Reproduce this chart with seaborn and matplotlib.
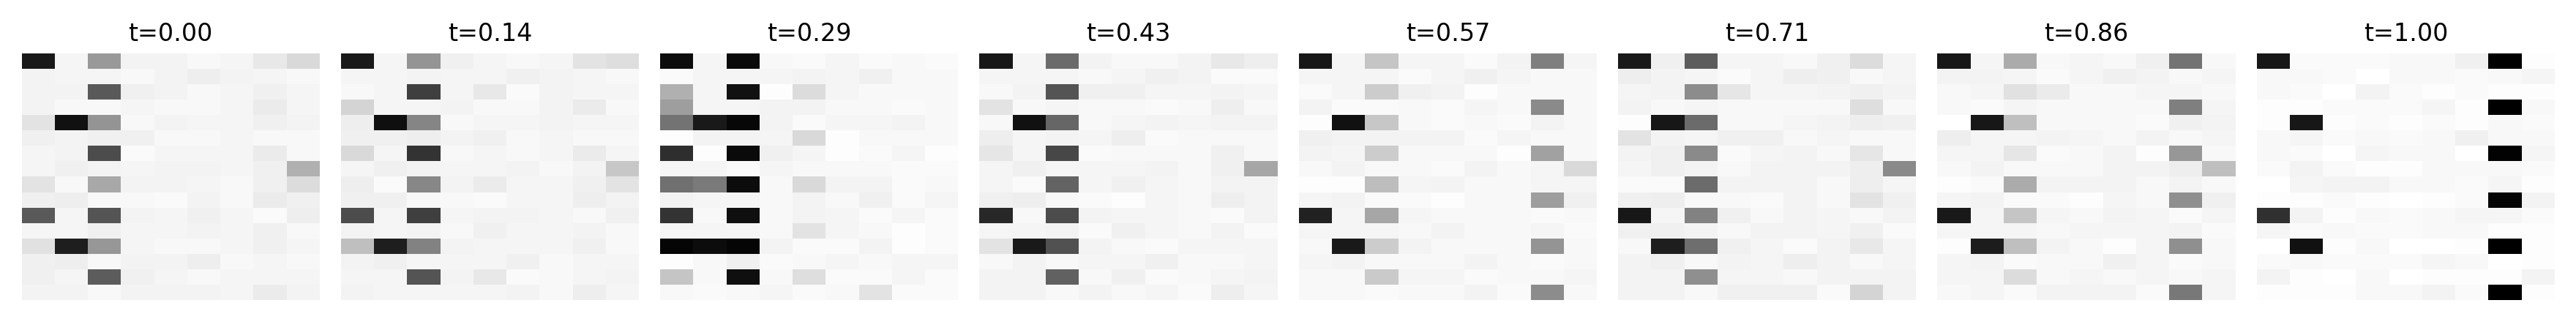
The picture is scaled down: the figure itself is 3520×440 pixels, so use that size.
import numpy as np
import matplotlib
matplotlib.use('Agg')
import matplotlib.pyplot as plt
import seaborn as sns

# darkness of each cell in percent, 16 rows x 9 columns
t000 = [[90,4,40,5,5,3,4,9,15],[5,4,4,3,5,7,5,4,3],[5,5,65,6,5,3,4,6,4],[5,3,3,4,3,3,4,8,4],
        [11,93,42,3,5,4,4,6,5],[6,5,6,6,3,3,4,3,3],[4,5,70,2,4,4,4,8,3],[4,6,5,4,5,5,4,6,31],
        [11,3,34,5,5,4,3,6,14],[6,7,3,3,2,5,3,8,6],[65,4,67,5,4,6,4,2,7],[4,4,6,4,4,5,4,6,3],
        [12,88,41,4,3,3,4,6,4],[6,7,3,5,5,7,3,4,3],[6,4,64,6,4,3,4,4,4],[5,5,3,5,5,5,4,8,5]]
t014 = [[90,4,42,6,4,3,4,11,13],[4,4,5,4,4,6,5,4,3],[3,4,75,4,9,2,5,4,4],[17,4,4,5,3,3,5,8,3],
        [7,94,48,3,4,4,5,4,4],[6,6,7,5,6,3,4,3,3],[15,4,80,3,4,3,4,8,4],[4,6,5,4,4,5,3,5,22],
        [7,2,47,5,8,4,4,6,11],[6,6,3,3,2,4,4,7,5],[70,4,75,4,5,5,4,3,6],[5,4,5,3,6,4,4,5,3],
        [25,88,49,5,4,4,4,6,3],[5,6,4,4,4,6,3,4,4],[4,4,67,5,9,2,3,4,5],[5,4,4,4,4,5,3,7,4]]
t029 = [[95,4,96,3,2,4,2,3,2],[2,4,4,4,5,4,6,3,3],[31,4,93,1,14,4,3,3,3],[38,4,4,5,5,3,3,2,3],
        [55,90,97,5,2,4,4,5,3],[1,5,5,4,15,1,3,3,3],[82,1,96,6,4,1,2,4,1],[4,4,2,4,3,3,3,2,2],
        [56,52,95,3,15,5,5,2,3],[5,4,4,3,5,3,6,2,4],[80,3,94,3,5,4,2,4,2],[4,4,4,3,11,4,3,1,2],
        [98,95,98,5,2,2,5,1,2],[1,3,6,2,3,4,3,4,4],[23,3,94,3,13,2,2,4,2],[3,2,3,4,2,3,11,2,2]]
t043 = [[91,4,58,5,3,3,5,9,7],[4,4,4,3,4,6,5,2,2],[3,5,67,6,6,4,4,5,4],[11,3,4,3,3,2,3,7,3],
        [3,93,60,3,4,5,4,5,5],[7,4,5,4,7,2,3,3,3],[10,4,72,2,3,3,3,6,3],[4,6,4,4,4,5,3,6,35],
        [4,2,61,4,6,4,3,5,5],[6,7,3,2,1,4,3,7,5],[84,3,70,5,4,4,3,2,5],[4,4,5,2,6,4,3,5,2],
        [11,90,68,5,3,2,4,4,4],[3,5,3,4,4,6,3,3,4],[5,5,62,3,6,2,3,4,5],[5,5,3,5,3,4,2,7,4]]
t057 = [[91,4,23,4,4,2,5,50,4],[4,4,4,2,4,6,4,3,3],[2,4,20,6,5,1,3,3,3],[5,2,2,3,2,4,3,46,3],
        [1,93,22,3,2,3,2,5,3],[6,5,5,5,5,2,4,3,3],[5,4,20,3,3,3,1,37,3],[3,5,3,3,2,5,3,4,15],
        [1,1,26,4,5,3,3,4,4],[4,5,2,2,1,3,3,38,6],[87,4,35,4,3,3,3,2,3],[4,4,4,3,5,3,3,4,2],
        [3,90,20,5,3,3,3,42,3],[4,5,3,3,3,5,3,2,3],[3,3,21,4,4,2,3,3,4],[3,3,2,3,3,5,2,45,3]]
t071 = [[90,6,64,4,4,3,6,14,4],[7,5,4,2,4,7,6,3,4],[4,5,45,10,4,4,5,6,5],[5,3,4,3,3,3,3,13,3],
        [1,91,58,3,3,4,5,7,6],[11,5,4,6,6,3,4,3,3],[5,6,46,2,4,5,3,10,3],[4,6,5,3,5,5,5,7,46],
        [2,2,58,5,5,5,3,7,4],[6,7,3,3,2,5,3,11,6],[91,4,49,6,3,5,4,3,5],[6,6,5,3,5,5,4,6,2],
        [3,88,57,6,4,2,5,9,4],[5,6,3,5,4,7,5,3,4],[5,5,44,4,4,3,5,5,5],[5,5,3,6,6,6,2,17,5]]
t086 = [[91,4,33,3,4,3,6,55,3],[5,5,4,2,4,6,5,3,4],[3,4,12,8,3,3,4,4,3],[3,2,4,3,3,3,3,50,4],
        [0,91,25,3,3,3,2,6,5],[7,4,4,5,4,3,5,3,4],[4,4,10,2,3,5,1,41,3],[3,5,3,3,3,5,5,7,25],
        [1,2,33,5,5,5,3,5,3],[4,5,2,2,1,4,3,44,6],[90,4,23,4,3,5,4,2,4],[4,4,4,3,4,4,4,5,2],
        [1,89,25,5,3,1,4,44,3],[4,5,2,3,3,6,4,2,3],[4,4,14,3,4,3,4,3,4],[3,4,2,5,5,5,2,53,4]]
t100 = [[91,2,2,2,3,3,6,100,1],[3,3,2,0,3,3,2,3,4],[3,2,0,5,2,1,2,1,1],[1,1,2,2,2,4,1,100,3],
        [1,91,1,2,1,2,1,3,2],[3,4,2,3,2,3,6,3,3],[3,2,0,4,3,3,0,99,4],[2,5,2,1,1,3,3,3,2],
        [0,4,5,5,3,3,2,4,1],[1,1,2,1,0,1,2,98,5],[81,5,1,3,2,3,4,4,2],[4,2,3,2,2,3,3,1,1],
        [0,93,1,3,0,0,1,100,1],[2,3,2,2,2,4,3,0,1],[5,1,0,3,0,1,1,1,5],[1,1,1,3,3,5,2,100,1]]

panels = [t000, t014, t029, t043, t057, t071, t086, t100]
titles = ['t=0.00', 't=0.14', 't=0.29', 't=0.43', 't=0.57', 't=0.71', 't=0.86', 't=1.00']

fig, axes = plt.subplots(1, 8, figsize=(17.6, 2.2), dpi=200)
for ax, vals, title in zip(axes, panels, titles):
    sns.heatmap(np.array(vals), ax=ax, cmap='gray_r', vmin=0, vmax=100, cbar=False,
                xticklabels=False, yticklabels=False)
    ax.set_title(title, fontsize=12)

fig.subplots_adjust(left=29.5/3520, right=3491/3520, top=1-73/440, bottom=1-410/440, wspace=29/407)
fig.savefig('out.png', dpi=200)
